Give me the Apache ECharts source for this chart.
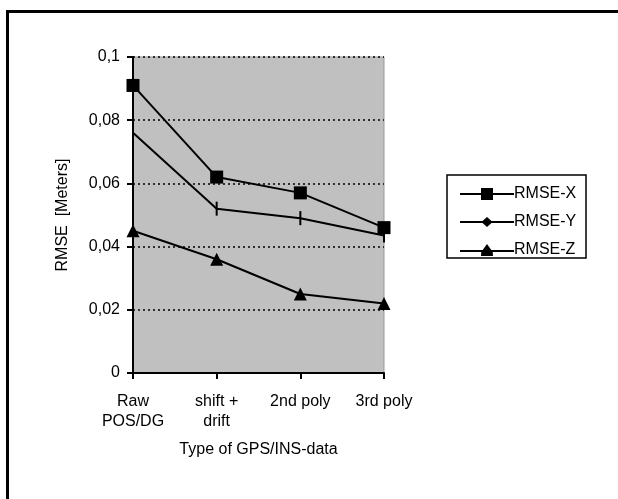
<!DOCTYPE html>
<html><head><meta charset="utf-8">
<script src="https://cdn.jsdelivr.net/npm/echarts@6/dist/echarts.min.js"></script>
<style>html,body{margin:0;padding:0;background:#fff}#c{width:618px;height:499px}</style>
</head><body><div id="c"></div>
<script>
const categories = ["Raw\nPOS/DG", "shift +\ndrift", "2nd poly", "3rd poly"];
const rmseX = [0.091, 0.062, 0.057, 0.046];
const rmseY = [0.076, 0.052, 0.049, 0.0435];
const rmseZ = [0.045, 0.036, 0.025, 0.022];
const seriesNames = ["RMSE-X", "RMSE-Y", "RMSE-Z"];

const chart = echarts.init(document.getElementById('c'));
const font = 'Liberation Sans, Arial, sans-serif';
const vbar = 'path://M0,0 L1,0 L1,10 L0,10 Z';
const legSquare = 'path://M0,5 L21,5 L21,0 L33,0 L33,5 L54,5 L54,7 L33,7 L33,12 L21,12 L21,7 L0,7 Z';
const legDiamond = 'path://M0,5 L22.5,5 L27,1 L31.5,5 L54,5 L54,7 L31.5,7 L27,11 L22.5,7 L0,7 Z';
const legTriangle = 'path://M0,6 L22.7,6 L27,0 L31.3,6 L54,6 L54,8 L32.7,8 L33,12 L21,12 L21.3,8 L0,8 Z';
function mk(name, data, symbol, size) {
  return {
    name, type: 'line', data, symbol, symbolSize: size,
    lineStyle: { color: '#000', width: 2 },
    itemStyle: { color: '#000' },
    emphasis: { disabled: true }, animation: false, z: 5
  };
}
chart.setOption({
  animation: false,
  textStyle: { fontFamily: font },
  graphic: [
    { type: 'rect', shape: { x: 6, y: 10, width: 612, height: 3 }, style: { fill: '#000' } },
    { type: 'rect', shape: { x: 6, y: 10, width: 3, height: 489 }, style: { fill: '#000' } },
    { type: 'rect', shape: { x: 447, y: 175, width: 139, height: 83 }, style: { fill: '#fff', stroke: '#000', lineWidth: 1.5 }, z: -1 }
  ],
  grid: { left: 133, right: 234, top: 57, bottom: 126, show: true, backgroundColor: '#c0c0c0', borderColor: '#999', borderWidth: 1 },
  legend: {
    orient: 'vertical', left: 455, top: 181, itemGap: 12, itemWidth: 54, itemHeight: 12,
    textStyle: { fontSize: 16, color: '#000', fontFamily: font, padding: [0, 0, 0, -5] },
    data: [
      { name: seriesNames[0], icon: legSquare },
      { name: seriesNames[1], icon: legDiamond },
      { name: seriesNames[2], icon: legTriangle }
    ]
  },
  xAxis: {
    type: 'category', data: categories, boundaryGap: false,
    name: 'Type of GPS/INS-data', nameLocation: 'middle', nameGap: 69,
    nameTextStyle: { fontSize: 16, color: '#000' },
    axisLine: { lineStyle: { color: '#000', width: 2 } },
    axisTick: { show: true, length: 6, lineStyle: { color: '#000', width: 2 } },
    axisLabel: { fontSize: 16, color: '#000', margin: 19, lineHeight: 20, interval: 0 },
    splitLine: { show: false }
  },
  yAxis: {
    type: 'value', min: 0, max: 0.1, interval: 0.02,
    name: 'RMSE  [Meters]', nameLocation: 'middle', nameGap: 62,
    nameTextStyle: { fontSize: 16, color: '#000' },
    axisLine: { show: true, lineStyle: { color: '#000', width: 2 } },
    axisTick: { show: true, length: 6, lineStyle: { color: '#000', width: 2 } },
    axisLabel: { fontSize: 16, color: '#000', margin: 13, formatter: v => String(+v.toFixed(2)).replace('.', ',') },
    splitLine: { show: true, lineStyle: { color: '#000', width: 1.5, type: [2, 3] } }
  },
  series: [
    mk(seriesNames[0], rmseX, 'rect', 13),
    mk(seriesNames[1], rmseY, vbar, [2, 14]),
    mk(seriesNames[2], rmseZ, 'triangle', 13)
  ]
});
</script></body></html>
